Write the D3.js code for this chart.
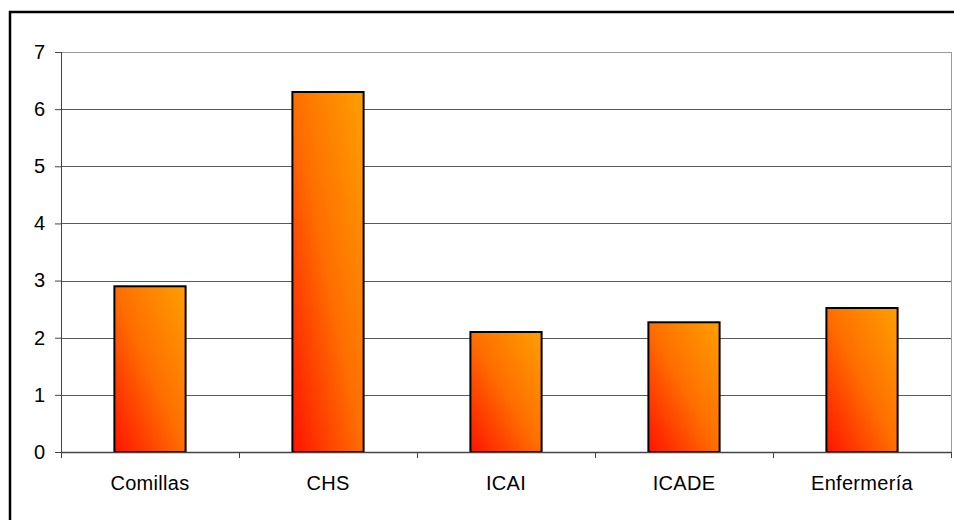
<!DOCTYPE html>
<html>
<head>
<meta charset="utf-8">
<script src="https://cdn.jsdelivr.net/npm/d3@7"></script>
<style>
  body { margin: 0; background: #fff; }
  svg { display: block; font-family: "Liberation Sans", Arial, sans-serif; }
</style>
</head>
<body>
<svg width="954" height="520"></svg>
<script>
// chart data
const categories = ["Comillas", "CHS", "ICAI", "ICADE", "Enfermería"];
const values = [2.9, 6.3, 2.1, 2.27, 2.52];
const yTicks = [0, 1, 2, 3, 4, 5, 6, 7];

// chart dimensions
const margin = { top: 52, right: 3, bottom: 68, left: 61 };
const width = 954 - margin.left - margin.right;
const height = 520 - margin.top - margin.bottom;

const svg = d3.select("svg");

// outer frame
svg.append("rect")
  .attr("x", 10)
  .attr("y", 12)
  .attr("width", 1000)
  .attr("height", 600)
  .attr("fill", "none")
  .attr("stroke", "#000")
  .attr("stroke-width", 2.5);

// gradient for bars
const grad = svg.append("defs").append("linearGradient")
  .attr("id", "barGrad")
  .attr("x1", "0").attr("y1", "1")
  .attr("x2", "1").attr("y2", "0");
grad.append("stop").attr("offset", "0%").attr("stop-color", "#ff1400");
grad.append("stop").attr("offset", "50%").attr("stop-color", "#ff6e00");
grad.append("stop").attr("offset", "100%").attr("stop-color", "#ff9f00");

const g = svg.append("g")
  .attr("transform", "translate(" + margin.left + "," + margin.top + ")");

// scales
const x = d3.scaleBand()
  .domain(categories)
  .range([0, width])
  .paddingInner(0.6)
  .paddingOuter(0.3);
const xb = d3.scaleBand()
  .domain(categories)
  .range([0, width]);
const y = d3.scaleLinear()
  .domain([0, 7])
  .range([height, 0]);

// grid lines
g.append("g")
  .selectAll("line")
  .data(yTicks.filter(d => d > 0))
  .join("line")
  .attr("x1", 0)
  .attr("x2", width)
  .attr("y1", d => Math.round(y(d)) + 0.5)
  .attr("y2", d => Math.round(y(d)) + 0.5)
  .attr("stroke", d => d === 7 ? "#999" : "#5a5a5a")
  .attr("stroke-width", 1);

// right border of plot area
g.append("line")
  .attr("x1", width + 0.5).attr("x2", width + 0.5)
  .attr("y1", 0).attr("y2", height)
  .attr("stroke", "#999");

// bars
g.selectAll("rect.bar")
  .data(values)
  .join("rect")
  .attr("class", "bar")
  .attr("x", (d, i) => x(categories[i]))
  .attr("width", x.bandwidth())
  .attr("y", d => y(d))
  .attr("height", d => height - y(d))
  .attr("fill", "url(#barGrad)")
  .attr("stroke", "#000")
  .attr("stroke-width", 2);

// y axis
const yAxis = d3.axisLeft(y)
  .tickValues(yTicks)
  .tickSize(6)
  .tickFormat(d3.format("d"));
const ya = g.append("g").call(yAxis);
ya.attr("font-size", null).attr("font-family", null);
ya.select(".domain").attr("stroke", "#444").attr("d", "M0.5,0V" + height);
ya.selectAll(".tick line").attr("stroke", "#444");
ya.selectAll(".tick text")
  .attr("x", -16)
  .style("font-size", "20px")
  .attr("fill", "#000");

// x axis
const xa = g.append("g")
  .attr("transform", "translate(0," + height + ")");
xa.append("line")
  .attr("x1", 0).attr("x2", width)
  .attr("y1", 0.5).attr("y2", 0.5)
  .attr("stroke", "#444")
  .attr("stroke-width", 1.5);
xa.selectAll("line.tk")
  .data(categories.concat(["end"]))
  .join("line")
  .attr("class", "tk")
  .attr("x1", (d, i) => i < categories.length ? Math.round(xb(d)) + 0.5 : width + 0.5)
  .attr("x2", (d, i) => i < categories.length ? Math.round(xb(d)) + 0.5 : width + 0.5)
  .attr("y1", 0)
  .attr("y2", 6)
  .attr("stroke", "#444");
xa.selectAll("text")
  .data(categories)
  .join("text")
  .attr("x", d => xb(d) + xb.bandwidth() / 2)
  .attr("y", 38)
  .attr("text-anchor", "middle")
  .style("font-size", "20px")
  .style("letter-spacing", "0.3px")
  .attr("fill", "#000")
  .text(d => d);
</script>
</body>
</html>
